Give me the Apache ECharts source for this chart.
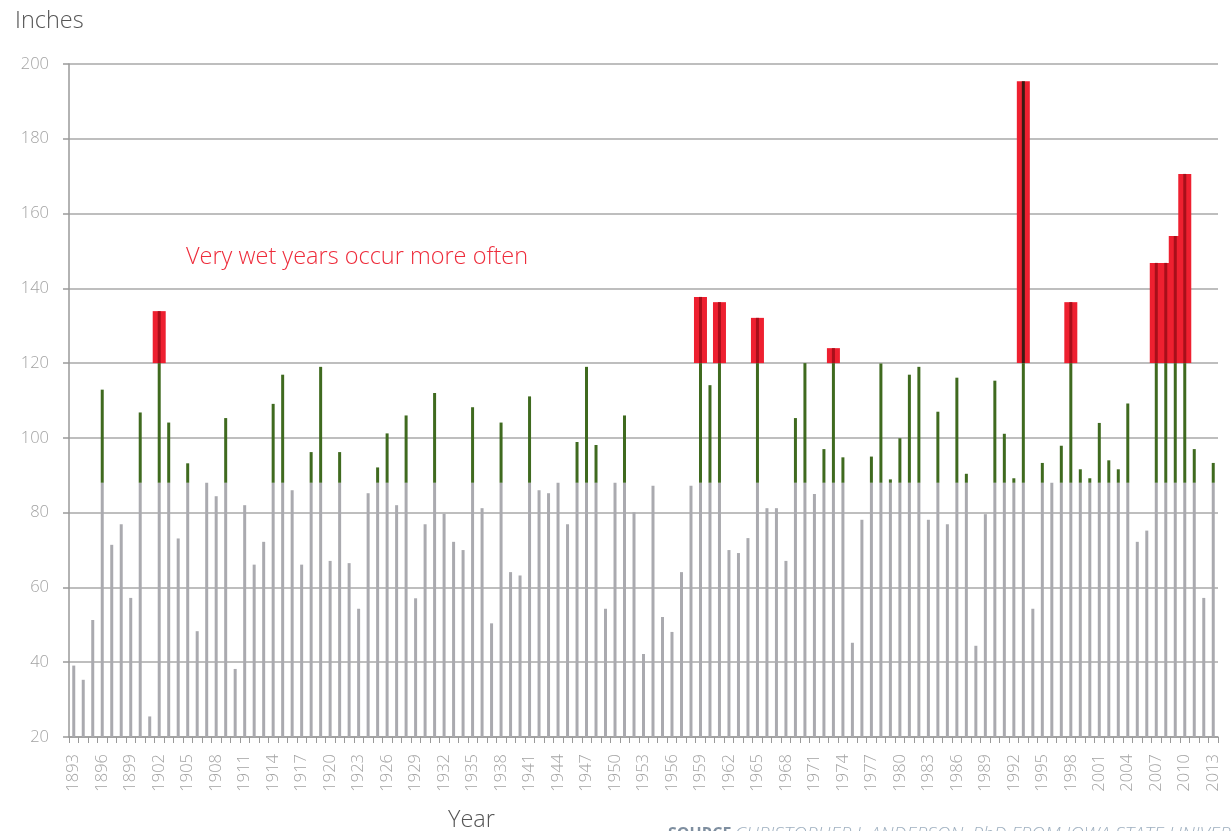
<!DOCTYPE html>
<html>
<head>
<meta charset="utf-8">
<title>Annual precipitation, Iowa</title>
<script src="https://cdn.jsdelivr.net/npm/echarts@6/dist/echarts.min.js"></script>
<style>
  html, body { margin: 0; padding: 0; background: #fff; }
  #chart { width: 1231px; height: 831px; }
</style>
</head>
<body>
<div id="chart"></div>
<script>
// yearly totals, inches
const rain1893to1922 = [39.1, 35.3, 51.3, 112.9, 71.4, 76.9, 57.2, 106.8, 25.5, 133.9,
  104.1, 73.1, 93.2, 48.3, 88, 84.4, 105.3, 38.2, 82, 66.1,
  72.2, 109.1, 116.9, 86, 66.1, 96.2, 119, 67.1, 96.2, 66.5]
const rain1923to1952 = [54.3, 85.2, 92.1, 101.2, 82, 106, 57.1, 76.9, 112, 79.7,
  72.2, 70, 108.2, 81.2, 50.4, 104.1, 64.1, 63.2, 111.1, 86,
  85.2, 88, 76.9, 98.9, 119, 98.1, 54.3, 88, 106, 80.1]
const rain1953to1982 = [42.2, 87.2, 52.1, 48.1, 64.1, 87.2, 137.7, 114.1, 136.3, 70,
  69.2, 73.2, 132.1, 81.2, 81.2, 67.1, 105.3, 120, 85, 97,
  124, 94.8, 45.2, 78.1, 95, 119.9, 88.9, 99.9, 116.9, 119]
const rain1983to2013 = [78.1, 107, 76.9, 116.1, 90.4, 44.4, 79.6, 115.3, 101.1, 89.2,
  195.4, 54.3, 93.3, 88, 97.9, 136.3, 91.6, 89.2, 104, 94,
  91.6, 109.2, 72.2, 75.2, 146.8, 146.8, 154, 170.6, 97, 57.2, 93.3]

const firstYear = 1893
const lastYear = 2013
const wetLevel = 88      // green starts here
const veryWetLevel = 120 // red starts here

const rainfall = [].concat(rain1893to1922, rain1923to1952, rain1953to1982, rain1983to2013)
const years = []
for (let y = firstYear; y <= lastYear; y++) years.push(String(y))

const normalPart = rainfall.map((v) => Math.min(v, wetLevel))
const wetPart = rainfall.map((v) => Math.max(0, Math.min(v, veryWetLevel) - wetLevel))
const veryWetPart = rainfall.map((v) => Math.max(0, v - veryWetLevel))
const wideBase = rainfall.map((v) => (v > veryWetLevel ? veryWetLevel : '-'))
const wideTop = rainfall.map((v) => (v > veryWetLevel ? v - veryWetLevel : '-'))

const font = '"Open Sans", "Segoe UI", sans-serif'
const chart = echarts.init(document.getElementById('chart'))

chart.setOption({
  animation: false,
  backgroundColor: '#fff',
  grid: { left: 69, right: 13, top: 64, bottom: 94 },
  xAxis: [
    {
      type: 'category',
      data: years,
      boundaryGap: true,
      axisLine: { lineStyle: { color: '#9a9a9a', width: 1.5 } },
      axisTick: { show: true, interval: 0, length: 6, lineStyle: { color: '#9a9a9a' } },
      axisLabel: {
        interval: 2,
        rotate: 90,
        margin: 17,
        color: '#a3a3a3',
        fontSize: 16.5,
        fontFamily: font,
        fontWeight: 300
      },
      splitLine: { show: false }
    },
    {
      type: 'category',
      data: years,
      show: false
    }
  ],
  yAxis: {
    type: 'value',
    min: 20,
    max: 200,
    interval: 20,
    axisLine: { show: true, lineStyle: { color: '#9a9a9a', width: 1.5 } },
    axisTick: { show: true, length: 6, lineStyle: { color: '#9a9a9a', width: 1.5 } },
    axisLabel: {
      margin: 20,
      color: '#a3a3a3',
      fontSize: 16.5,
      fontFamily: font,
      fontWeight: 300
    },
    splitLine: { lineStyle: { color: '#a8a8a8', width: 1.5 } }
  },
  series: [
    {
      name: 'base',
      type: 'bar',
      xAxisIndex: 1,
      stack: 'wide',
      barWidth: 13,
      data: wideBase,
      itemStyle: { color: 'transparent' },
      silent: true
    },
    {
      name: 'Very wet',
      type: 'bar',
      xAxisIndex: 1,
      stack: 'wide',
      barWidth: 13,
      data: wideTop,
      itemStyle: { color: '#ee2030' }
    },
    {
      name: 'Normal',
      type: 'bar',
      stack: 'thin',
      barWidth: 3,
      data: normalPart,
      itemStyle: { color: '#aaaaaf' }
    },
    {
      name: 'Wet',
      type: 'bar',
      stack: 'thin',
      barWidth: 3,
      data: wetPart,
      itemStyle: { color: '#3f6a1f' }
    },
    {
      name: 'Very wet line',
      type: 'bar',
      stack: 'thin',
      barWidth: 3,
      data: veryWetPart,
      // the record year line shows much darker in the original
      itemStyle: { color: (p) => (p.value > 60 ? '#3a1a12' : '#a80f1a') }
    }
  ],
  graphic: [
    {
      type: 'text', left: 15, top: 9,
      style: { text: 'Inches', fill: '#555', fontSize: 23.5, fontFamily: font, fontWeight: 300 }
    },
    {
      type: 'text', left: 186, top: 245,
      style: { text: 'Very wet years occur more often', fill: '#ee2b3a', fontSize: 23.5, fontFamily: font, fontWeight: 300 }
    },
    {
      type: 'text', left: 448, top: 808,
      style: { text: 'Year', fill: '#555', fontSize: 23.5, fontFamily: font, fontWeight: 300 }
    },
    {
      type: 'text', left: 668, top: 825,
      style: {
        text: '{s|SOURCE} {n|CHRISTOPHER J. ANDERSON, PhD FROM IOWA STATE UNIVERSITY}',
        rich: {
          s: { fill: '#7f8fa0', fontSize: 16, fontWeight: 'bold', fontFamily: font },
          n: { fill: '#9fb0c0', fontSize: 19, fontStyle: 'italic', fontFamily: font, fontWeight: 300 }
        }
      }
    }
  ]
})
</script>
</body>
</html>
